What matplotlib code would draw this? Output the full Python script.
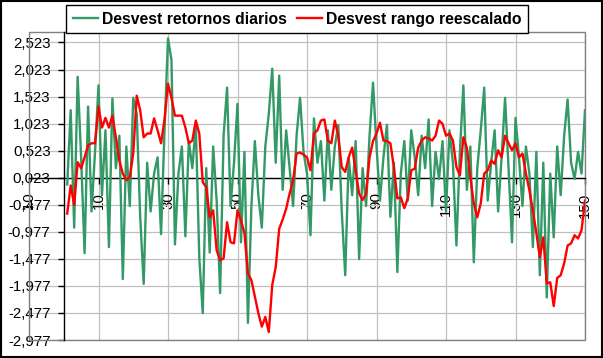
import matplotlib.pyplot as plt
import numpy as np
from matplotlib.patches import Rectangle
from matplotlib.lines import Line2D

plt.rcParams['font.family'] = ['Liberation Sans', 'DejaVu Sans']
plt.rcParams['axes.unicode_minus'] = False

# day index 1..150
dias = np.arange(1, 151)

desvest_retornos = [
    -0.10, 1.27, -0.90, 1.89, 0.40, -1.37, 1.34, -0.60, 0.50, 1.73,
    -0.30, 0.90, -1.26, 1.49, 0.20, 0.80, -1.85, 0.60, -0.50, 1.50,
    1.20, -0.70, -1.94, 0.30, -0.60, 0.10, 0.40, -1.02, 0.90, 2.60,
    2.20, -1.21, 0.10, 0.60, -1.06, 0.70, 0.20, 1.00, -1.45, -2.48,
    0.20, -1.36, 0.60, -0.40, -2.11, 0.80, 1.69, -0.50, 0.30, 1.39,
    -1.17, 0.50, -2.66, -0.50, 0.70, -0.30, -0.90, 0.60, 1.20, 2.04,
    0.30, 1.91, -0.20, 0.90, 0.20, -0.50, 0.80, 1.50, 0.50, 0.10,
    -1.04, 1.12, 0.30, 0.70, -0.40, 0.90, -0.20, 0.60, 1.00, -0.60,
    -1.78, 0.40, -0.30, 0.70, -1.48, 0.20, -0.50, 0.80, 1.78, 0.60,
    -0.40, 0.40, 1.00, -0.70, 0.30, -1.72, 0.10, 0.70, -0.40, 0.90,
    0.40, -0.30, 0.80, 0.20, 1.10, -0.50, 0.50, 0.00, 0.70, -0.60,
    0.90, 0.30, -1.23, 0.50, 1.73, -0.20, 0.60, -1.54, 0.20, 0.90,
    1.69, -0.40, 0.30, 0.90, -0.60, 0.40, 1.50, 0.20, -1.17, 1.13,
    0.40, -0.50, 0.60, 0.10, -1.26, 0.50, -1.78, 0.30, -2.19, 0.10,
    -1.08, 0.60, -0.30, 0.80, 1.47, 0.30, 0.00, 0.50, 0.10, 1.27,
]

desvest_rango = [
    -0.64, -0.12, -0.48, 0.31, 0.20, 0.40, 0.62, 0.66, 0.66, 1.34,
    0.95, 1.13, 0.95, 1.17, 0.77, 0.34, 0.10, -0.02, 0.03, 0.47,
    1.54, 1.27, 0.77, 0.84, 0.84, 1.12, 0.90, 0.66, 1.10, 1.76,
    1.50, 1.17, 1.17, 1.17, 0.95, 0.66, 0.71, 1.08, 0.84, -0.06,
    -0.15, -0.71, -0.58, -1.32, -1.50, -1.47, -0.80, -1.17, -1.19, -0.58,
    -0.77, -1.00, -1.75, -1.87, -2.18, -2.48, -2.73, -2.55, -2.83, -1.96,
    -1.63, -0.92, -0.75, -0.55, -0.27, -0.03, 0.47, 0.49, 0.45, 0.40,
    0.16, 0.84, 0.90, 1.08, 1.10, 0.71, 0.66, 1.08, 0.80, 0.22,
    0.13, 0.40, 0.58, 0.16, -0.27, -0.39, -0.27, 0.40, 0.70, 0.84,
    1.04, 0.71, 0.70, 0.66, 0.22, -0.36, -0.34, -0.54, -0.36, 0.16,
    0.19, 0.58, 0.71, 0.77, 0.75, 0.71, 0.80, 1.08, 1.02, 0.80,
    0.84, 0.71, 0.22, 0.07, 0.77, 0.58, 0.03, -0.45, -0.71, -0.45,
    0.10, 0.16, 0.34, 0.28, 0.53, 0.40, 0.80, 0.66, 0.53, 0.66,
    0.40, 0.47, 0.10, -0.21, -0.58, -1.00, -1.45, -1.08, -1.93, -1.91,
    -2.35, -1.83, -1.78, -1.56, -1.23, -1.19, -1.04, -1.10, -0.95, -0.40,
]

x_ticks = [-10, 10, 30, 50, 70, 90, 110, 130, 150]
y_ticks = [-2.977, -2.477, -1.977, -1.477, -0.977, -0.477, 0.023, 0.523, 1.023, 1.523, 2.023, 2.523]

verde = '#339966'
rojo = '#FF0000'

fig = plt.figure(figsize=(6.03, 3.58), dpi=100)
ax = fig.add_axes([29 / 603, 18 / 358, 556 / 603, 308 / 358])

# axes cross at x=0 and y=0.023 (set before tick labels, it resets ticks)
ax.spines['left'].set_position(('data', 0))
ax.spines['bottom'].set_position(('data', 0.023))
for s in ['left', 'bottom']:
    ax.spines[s].set_color('black')
    ax.spines[s].set_linewidth(1.0)
    ax.spines[s].set_zorder(2.5)
ax.spines['top'].set_visible(False)
ax.spines['right'].set_visible(False)

ax.plot(dias, desvest_retornos, color=verde, linewidth=1.7, zorder=3,
        label='Desvest retornos diarios')
ax.plot(dias, desvest_rango, color=rojo, linewidth=1.7, zorder=4,
        label='Desvest rango reescalado')

ax.set_xlim(-10, 150)
ax.set_ylim(-2.977, 2.717)

ax.set_xticks(x_ticks)
ax.set_xticklabels([str(t) for t in x_ticks], fontsize=10.8)
ax.set_yticks(y_ticks)
ax.set_yticklabels([f'{t:.3f}'.replace('.', ',') for t in y_ticks], fontsize=10.8)

ax.grid(True, color='#C0C0C0', linewidth=0.9)
ax.set_axisbelow(True)

ax.tick_params(axis='both', direction='out', length=4.5, width=1.0,
               color='black', pad=5)
ax.tick_params(axis='x', labelrotation=90, pad=6)

# plot area border
ax.add_patch(Rectangle((0, 0), 1, 1, transform=ax.transAxes, fill=False,
                       edgecolor='#808080', linewidth=1.0, clip_on=False, zorder=1))

# chart area border
fig.add_artist(Rectangle((0.002, 0.003), 0.996, 0.994, transform=fig.transFigure,
                         fill=False, edgecolor='black', linewidth=1.5))

handles = [Line2D([], [], color=verde, linewidth=1.7),
           Line2D([], [], color=rojo, linewidth=1.7)]
leg = fig.legend(handles, ['Desvest retornos diarios', 'Desvest rango reescalado'],
                 loc='upper left', bbox_to_anchor=(66 / 603, 1 - 5 / 358),
                 ncol=2, fancybox=False, framealpha=1, edgecolor='black',
                 prop={'weight': 'bold', 'size': 11.3}, handlelength=1.6,
                 handletextpad=0.25, columnspacing=0.65, borderpad=0.42,
                 borderaxespad=0)
leg.get_frame().set_linewidth(1.0)

fig.savefig('out.png', dpi=100, facecolor='white')
